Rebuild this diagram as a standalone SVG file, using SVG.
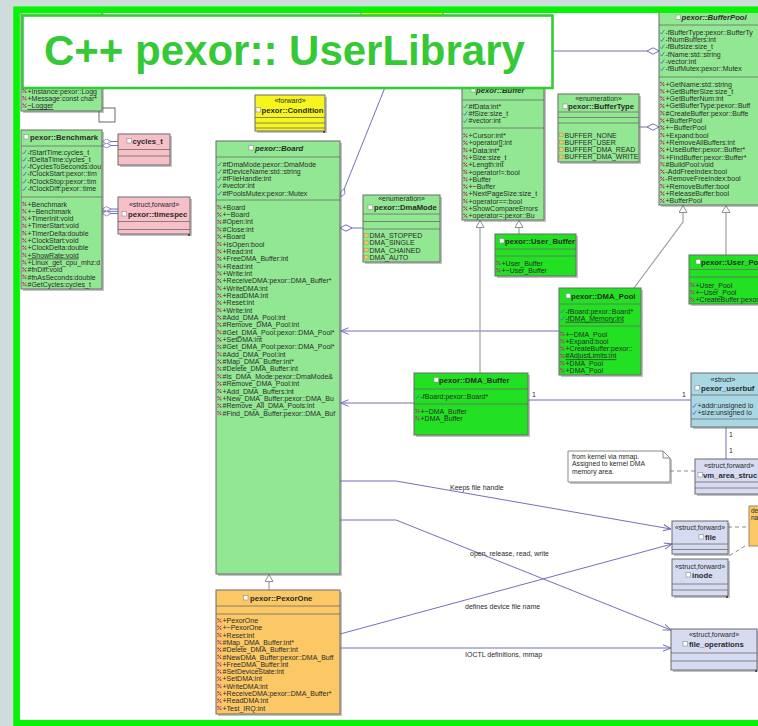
<svg xmlns="http://www.w3.org/2000/svg" width="758" height="726" viewBox="0 0 758 726">
<style>
text{font-family:"Liberation Sans",Arial,sans-serif;font-size:7px;fill:#2a2a2a}
.hd{font-weight:bold;font-size:7.7px}
.it{font-style:italic}
.st{text-anchor:middle;font-size:7px}
.sh{fill:#7a7a7a;opacity:.45}
.bx{stroke:#6b6b6b;stroke-width:1}
.lg{fill:#92e892}
.bg{fill:#22e022}
.pk{fill:#f7c0c8}
.yl{fill:#f6f61e}
.or{fill:#fcc865}
.lb{fill:#a9d8e4}
.lv{fill:#d7dbf2}
.sp{fill:none;stroke:#6b6b6b;stroke-width:.8}
.cn{fill:none;stroke:#7171ba;stroke-width:1}
.ih{fill:none;stroke:#a0a0a0;stroke-width:1.2}
.ds{fill:none;stroke:#8a8a8a;stroke-width:1;stroke-dasharray:4 3}
.u{text-decoration:underline}
.dot{fill:#222}
</style>
<defs>
<g id="im"><path d="M1.4 2L5.2-2" stroke="#b03a78" stroke-width=".9"/><rect x="1.3" y="-2.2" width="1.6" height="1.6" fill="#b03a78"/><rect x="3.8" y=".4" width="1.6" height="1.6" fill="#b03a78"/></g>
<g id="ia"><path d="M1.6 .6L2.6 2L5.4-2" fill="none" stroke="#4a70c8" stroke-width=".9"/></g>
<g id="il"><rect x="1.5" y="-1.9" width="3.6" height="3.6" fill="#e9cd6a" stroke="#b09040" stroke-width=".5"/></g>
<g id="hi"><rect width="4.5" height="4.5" fill="#fff" stroke="#8a8a8a" stroke-width=".6"/></g>
<marker id="dm" viewBox="0 0 13 8" refX="0.5" refY="4" markerWidth="13" markerHeight="8" markerUnits="userSpaceOnUse" orient="auto"><path d="M0.5 4L6.5 0.8L12.5 4L6.5 7.2Z" fill="#fff" stroke="#7171ba"/></marker>
<marker id="dms" viewBox="0 0 10 6" refX="0.5" refY="3" markerWidth="10" markerHeight="6" markerUnits="userSpaceOnUse" orient="auto"><path d="M0.5 3L5 0.6L9.5 3L5 5.4Z" fill="#fff" stroke="#7171ba" stroke-width=".8"/></marker>
<marker id="ar" viewBox="0 0 8 8" refX="8" refY="4" markerWidth="8" markerHeight="8" markerUnits="userSpaceOnUse" orient="auto"><path d="M0 0.8L8 4L0 7.2" fill="none" stroke="#7171ba"/></marker>
<marker id="tri" viewBox="0 0 8 9" refX="0" refY="4.5" markerWidth="8" markerHeight="9" markerUnits="userSpaceOnUse" orient="auto"><path d="M0.5 4.5L7.5 0.5V8.5Z" fill="#fff" stroke="#909090"/></marker>
</defs>

<!-- page background and white drawing area -->
<rect width="758" height="726" fill="#cfdcdc"/>
<rect x="18" y="10" width="740" height="714" fill="#fff"/>

<!-- connectors -->
<g id="connectors">
<path class="cn" d="M659 51H553" marker-start="url(#dm)"/>
<path class="cn" d="M659 127H639" marker-start="url(#dm)"/>
<path class="cn" d="M341 197L396 60" marker-start="url(#dms)"/>
<path class="cn" d="M340 228H363" marker-start="url(#dm)"/>
<path class="cn" d="M102 141.5H118" marker-start="url(#dms)"/>
<path class="cn" d="M102 145.5H118" marker-start="url(#dms)"/>
<path class="cn" d="M102 209H118" marker-start="url(#dms)"/>
<path class="cn" d="M102 211.3H118"/>
<path class="cn" d="M102 213.5H118" marker-start="url(#dms)"/>
<path class="cn" d="M559 331H340.5" marker-end="url(#ar)"/>
<path class="cn" d="M414 403H340.5" marker-end="url(#ar)"/>
<path class="cn" d="M528 400H691"/>
<path class="cn" d="M726 427V459"/>
<path class="ds" d="M670 471H695"/>
<path class="ds" d="M728 527H749"/>
<path class="ds" d="M745 546L729 556"/>
<path class="cn" d="M340 481H396L671 529" marker-end="url(#ar)"/>
<path class="cn" d="M340 520H396L671 630" marker-end="url(#ar)"/>
<path class="cn" d="M340 634L672 544" marker-end="url(#ar)"/>
<path class="cn" d="M340 648H671" marker-end="url(#ar)"/>
<path class="ih" d="M480 220V373" marker-start="url(#tri)"/>
<path class="ih" d="M519 220V234" marker-start="url(#tri)"/>
<path class="ih" d="M683 205V222L634 288" marker-start="url(#tri)"/>
<path class="ih" d="M726 205V255" marker-start="url(#tri)"/>
<path class="ih" d="M269 574V590" marker-start="url(#tri)"/>
<text x="450" y="490">Keeps file handle</text>
<text x="470" y="556">open, release, read, write</text>
<text x="465" y="609">defines device file name</text>
<text x="465" y="656.5">IOCTL definitions, mmap</text>
<text x="532" y="397">1</text>
<text x="682" y="397">1</text>
<text x="729" y="437">1</text>
<text x="729" y="453">1</text>
</g>

<!-- yellow class mostly hidden behind the heading -->
<g id="n-hidden">
<rect class="bx yl" x="361" y="11" width="82" height="5"/>
</g>

<!-- pexor::Logger -->
<g id="n-logger">
<rect class="bx" x="99" y="108" width="16" height="14" fill="#fff"/>
<rect class="sh" x="23" y="10" width="81" height="103"/>
<rect class="bx lg" x="21" y="8" width="81" height="103"/>
<svg x="21" y="8" width="81" height="103" viewBox="21 8 81 103">
<g transform="translate(21,91)">
<use href="#im"/><use href="#im" y="7.3"/><use href="#im" y="14.6"/>
<g transform="translate(0,2.5)">
<text x="6.5" y="0">+Instance:pexor::Logg</text>
<text x="6.5" y="7.3">+Message:const char*</text>
<text x="6.5" y="14.6" class="u">~Logger</text>
</g></g></svg>
</g>

<!-- pexor::Benchmark -->
<g id="n-benchmark">
<rect class="sh" x="23" y="132" width="81" height="159"/>
<rect class="bx lg" x="21" y="130" width="81" height="159"/>
<svg x="21" y="130" width="81" height="159" viewBox="21 130 81 159">
<use href="#hi" x="24" y="134.5"/>
<text class="hd" x="30" y="139.5">pexor::Benchmark</text>
<path class="sp" d="M21 146h81M21 197h81"/>
<g transform="translate(21,152)">
<use href="#ia"/><use href="#ia" y="7.3"/><use href="#ia" y="14.6"/><use href="#ia" y="21.9"/><use href="#ia" y="29.2"/><use href="#ia" y="36.5"/>
<g transform="translate(0,2.5)">
<text x="6.5" y="0">-fStartTime:cycles_t</text>
<text x="6.5" y="7.3">-fDeltaTime:cycles_t</text>
<text x="6.5" y="14.6">-fCyclesToSeconds:dou</text>
<text x="6.5" y="21.9">-fClockStart:pexor::tim</text>
<text x="6.5" y="29.2">-fClockStop:pexor::tim</text>
<text x="6.5" y="36.5">-fClockDiff:pexor::time</text>
</g></g>
<g transform="translate(21,204)">
<use href="#im"/><use href="#im" y="7.3"/><use href="#im" y="14.6"/><use href="#im" y="21.9"/><use href="#im" y="29.2"/><use href="#im" y="36.5"/><use href="#im" y="43.8"/><use href="#im" y="51.1"/><use href="#im" y="58.4"/><use href="#im" y="65.7"/><use href="#im" y="73"/><use href="#im" y="80.3"/>
<g transform="translate(0,2.5)">
<text x="6.5" y="0">+Benchmark</text>
<text x="6.5" y="7.3">+~Benchmark</text>
<text x="6.5" y="14.6">+TimerInit:void</text>
<text x="6.5" y="21.9">+TimerStart:void</text>
<text x="6.5" y="29.2">+TimerDelta:double</text>
<text x="6.5" y="36.5">+ClockStart:void</text>
<text x="6.5" y="43.8">+ClockDelta:double</text>
<text x="6.5" y="51.1" class="u">+ShowRate:void</text>
<text x="6.5" y="58.4">+Linux_get_cpu_mhz:d</text>
<text x="6.5" y="65.7">#fnDiff:void</text>
<text x="6.5" y="73">#fnAsSeconds:double</text>
<text x="6.5" y="80.3">#GetCycles:cycles_t</text>
</g></g></svg>
</g>

<!-- cycles_t -->
<g id="n-cycles">
<rect class="sh" x="120" y="136" width="52" height="31"/>
<rect class="bx pk" x="118" y="134" width="52" height="31"/>
<use href="#hi" x="127" y="138.5"/>
<text class="hd" x="132.5" y="143.5">cycles_t</text>
<path class="sp" d="M118 149.5h52M118 156h52"/>
</g>

<!-- pexor::timespec -->
<g id="n-timespec">
<rect class="sh" x="120" y="199" width="72" height="37"/>
<rect class="bx pk" x="118" y="197" width="72" height="37"/>
<text class="st" x="154" y="207">«struct,forward»</text>
<use href="#hi" x="122" y="211.5"/>
<text class="hd" x="128" y="216.5">pexor::timespec</text>
<path class="sp" d="M118 221.5h72M118 229.5h72"/>
<circle class="dot" cx="189" cy="235" r=".9"/>
</g>

<!-- pexor::Condition -->
<g id="n-condition">
<rect class="sh" x="257" y="97" width="70" height="36"/>
<rect class="bx yl" x="255" y="95" width="70" height="36"/>
<text class="st" x="290" y="103">«forward»</text>
<use href="#hi" x="256" y="107.5"/>
<text class="hd" x="261.5" y="112.5">pexor::Condition</text>
<path class="sp" d="M255 117.5h70M255 123h70M255 128h70"/>
<circle class="dot" cx="324" cy="132" r=".9"/>
</g>

<!-- pexor::Board -->
<g id="n-board">
<rect class="sh" x="218" y="143" width="124" height="433"/>
<rect class="bx lg" x="216" y="141" width="124" height="433"/>
<svg x="216" y="141" width="124" height="433" viewBox="216 141 124 433">
<use href="#hi" x="249" y="145.5"/>
<text class="hd it" x="255" y="150.5">pexor::Board</text>
<path class="sp" d="M216 157h124M216 200h124"/>
<g transform="translate(216,164)">
<use href="#ia"/><use href="#ia" y="7.3"/><use href="#ia" y="14.6"/><use href="#ia" y="21.9"/><use href="#ia" y="29.2"/>
<g transform="translate(0,2.5)">
<text x="6.5" y="0">#fDmaMode:pexor::DmaMode</text>
<text x="6.5" y="7.3">#fDeviceName:std::string</text>
<text x="6.5" y="14.6">#fFileHandle:int</text>
<text x="6.5" y="21.9">#vector:int</text>
<text x="6.5" y="29.2">#fPoolsMutex:pexor::Mutex</text>
</g></g>
<g transform="translate(216,207.3)">
<use href="#im"/><use href="#im" y="7.35"/><use href="#im" y="14.7"/><use href="#im" y="22.05"/><use href="#im" y="29.4"/><use href="#im" y="36.75"/><use href="#im" y="44.1"/><use href="#im" y="51.45"/><use href="#im" y="58.8"/><use href="#im" y="66.15"/><use href="#im" y="73.5"/><use href="#im" y="80.85"/><use href="#im" y="88.2"/><use href="#im" y="95.55"/><use href="#im" y="102.9"/><use href="#im" y="110.25"/><use href="#im" y="117.6"/><use href="#im" y="124.95"/><use href="#im" y="132.3"/><use href="#im" y="139.65"/><use href="#im" y="147"/><use href="#im" y="154.35"/><use href="#im" y="161.7"/><use href="#im" y="169.05"/><use href="#im" y="176.4"/><use href="#im" y="183.75"/><use href="#im" y="191.1"/><use href="#im" y="198.45"/><use href="#im" y="205.8"/>
<g transform="translate(0,2.5)">
<text x="6.5" y="0">+Board</text>
<text x="6.5" y="7.35">+~Board</text>
<text x="6.5" y="14.7">#Open:int</text>
<text x="6.5" y="22.05">#Close:int</text>
<text x="6.5" y="29.4">+Board</text>
<text x="6.5" y="36.75">+IsOpen:bool</text>
<text x="6.5" y="44.1">+Read:int</text>
<text x="6.5" y="51.45">+FreeDMA_Buffer:int</text>
<text x="6.5" y="58.8">+Read:int</text>
<text x="6.5" y="66.15">+Write:int</text>
<text x="6.5" y="73.5">+ReceiveDMA:pexor::DMA_Buffer*</text>
<text x="6.5" y="80.85">+WriteDMA:int</text>
<text x="6.5" y="88.2">+ReadDMA:int</text>
<text x="6.5" y="95.55">+Reset:int</text>
<text x="6.5" y="102.9">+Write:int</text>
<text x="6.5" y="110.25">#Add_DMA_Pool:int</text>
<text x="6.5" y="117.6">#Remove_DMA_Pool:int</text>
<text x="6.5" y="124.95">#Get_DMA_Pool:pexor::DMA_Pool*</text>
<text x="6.5" y="132.3">+SetDMA:int</text>
<text x="6.5" y="139.65">#Get_DMA_Pool:pexor::DMA_Pool*</text>
<text x="6.5" y="147">#Add_DMA_Pool:int</text>
<text x="6.5" y="154.35">#Map_DMA_Buffer:int*</text>
<text x="6.5" y="161.7">#Delete_DMA_Buffer:int</text>
<text x="6.5" y="169.05">#Is_DMA_Mode:pexor::DmaMode&amp;</text>
<text x="6.5" y="176.4">#Remove_DMA_Pool:int</text>
<text x="6.5" y="183.75">+Add_DMA_Buffers:int</text>
<text x="6.5" y="191.1">+New_DMA_Buffer:pexor::DMA_Bu</text>
<text x="6.5" y="198.45">#Remove_All_DMA_Pools:int</text>
<text x="6.5" y="205.8">#Find_DMA_Buffer:pexor::DMA_Buf</text>
</g></g></svg>
</g>

<!-- pexor::DmaMode -->
<g id="n-dmamode">
<rect class="sh" x="365" y="197" width="77" height="67"/>
<rect class="bx lg" x="363" y="195" width="77" height="67"/>
<text class="st" x="401.5" y="201">«enumeration»</text>
<use href="#hi" x="368" y="205"/>
<text class="hd" x="374" y="210">pexor::DmaMode</text>
<path class="sp" d="M363 214h77M363 221.5h77M363 229h77"/>
<g transform="translate(363,235.5)">
<use href="#il"/><use href="#il" y="7.3"/><use href="#il" y="14.6"/><use href="#il" y="21.9"/>
<g transform="translate(0,2.5)">
<text x="6.5" y="0">DMA_STOPPED</text>
<text x="6.5" y="7.3">DMA_SINGLE</text>
<text x="6.5" y="14.6">DMA_CHAINED</text>
<text x="6.5" y="21.9">DMA_AUTO</text>
</g></g>
</g>

<!-- pexor::PexorOne -->
<g id="n-pexorone">
<rect class="sh" x="218" y="592" width="124" height="124"/>
<rect class="bx or" x="216" y="590" width="124" height="124"/>
<svg x="216" y="590" width="124" height="124" viewBox="216 590 124 124">
<use href="#hi" x="243.5" y="595.5"/>
<text class="hd" x="250" y="600.5">pexor::PexorOne</text>
<path class="sp" d="M216 606h124M216 614h124"/>
<g transform="translate(216,620.5)">
<use href="#im"/><use href="#im" y="7.3"/><use href="#im" y="14.6"/><use href="#im" y="21.9"/><use href="#im" y="29.2"/><use href="#im" y="36.5"/><use href="#im" y="43.8"/><use href="#im" y="51.1"/><use href="#im" y="58.4"/><use href="#im" y="65.7"/><use href="#im" y="73"/><use href="#im" y="80.3"/><use href="#im" y="87.6"/>
<g transform="translate(0,2.5)">
<text x="6.5" y="0">+PexorOne</text>
<text x="6.5" y="7.3">+~PexorOne</text>
<text x="6.5" y="14.6">+Reset:int</text>
<text x="6.5" y="21.9">#Map_DMA_Buffer:int*</text>
<text x="6.5" y="29.2">#Delete_DMA_Buffer:int</text>
<text x="6.5" y="36.5">#NewDMA_Buffer:pexor::DMA_Buff</text>
<text x="6.5" y="43.8">+FreeDMA_Buffer:int</text>
<text x="6.5" y="51.1">#SetDeviceState:int</text>
<text x="6.5" y="58.4">+SetDMA:int</text>
<text x="6.5" y="65.7">+WriteDMA:int</text>
<text x="6.5" y="73">+ReceiveDMA:pexor::DMA_Buffer*</text>
<text x="6.5" y="80.3">+ReadDMA:int</text>
<text x="6.5" y="87.6">+Test_IRQ:int</text>
</g></g></svg>
</g>

<!-- pexor::Buffer -->
<g id="n-buffer">
<rect class="sh" x="464" y="62" width="82" height="160"/>
<rect class="bx lg" x="462" y="60" width="82" height="160"/>
<svg x="462" y="60" width="82" height="160" viewBox="462 60 82 160">
<use href="#hi" x="471" y="87.5"/>
<text class="hd it" x="476" y="92.5">pexor::Buffer</text>
<path class="sp" d="M462 100h82M462 128h82"/>
<g transform="translate(462,106)">
<use href="#ia"/><use href="#ia" y="7.3"/><use href="#ia" y="14.6"/>
<g transform="translate(0,2.5)">
<text x="6.5" y="0">#fData:int*</text>
<text x="6.5" y="7.3">#fSize:size_t</text>
<text x="6.5" y="14.6">#vector:int</text>
</g></g>
<g transform="translate(462,135.5)">
<use href="#im"/><use href="#im" y="7.3"/><use href="#im" y="14.6"/><use href="#im" y="21.9"/><use href="#im" y="29.2"/><use href="#im" y="36.5"/><use href="#im" y="43.8"/><use href="#im" y="51.1"/><use href="#im" y="58.4"/><use href="#im" y="65.7"/><use href="#im" y="73"/><use href="#im" y="80.3"/>
<g transform="translate(0,2.5)">
<text x="6.5" y="0">+Cursor:int*</text>
<text x="6.5" y="7.3">+operator[]:int</text>
<text x="6.5" y="14.6">+Data:int*</text>
<text x="6.5" y="21.9">+Size:size_t</text>
<text x="6.5" y="29.2">+Length:int</text>
<text x="6.5" y="36.5">+operator!=:bool</text>
<text x="6.5" y="43.8">+Buffer</text>
<text x="6.5" y="51.1">+~Buffer</text>
<text x="6.5" y="58.4">+NextPageSize:size_t</text>
<text x="6.5" y="65.7">+operator==:bool</text>
<text x="6.5" y="73">+ShowCompareErrors</text>
<text x="6.5" y="80.3">+operator=:pexor::Bu</text>
</g></g></svg>
</g>

<!-- pexor::BufferType -->
<g id="n-buffertype">
<rect class="sh" x="560" y="96" width="81" height="68"/>
<rect class="bx lg" x="558" y="94" width="81" height="68"/>
<text class="st" x="598.5" y="100.5">«enumeration»</text>
<use href="#hi" x="563" y="104"/>
<text class="hd" x="568" y="109">pexor::BufferType</text>
<path class="sp" d="M558 112h81M558 117.5h81M558 123h81"/>
<g transform="translate(558,135)">
<use href="#il"/><use href="#il" y="7.3"/><use href="#il" y="14.6"/><use href="#il" y="21.9"/>
<g transform="translate(0,2.5)">
<text x="6.5" y="0">BUFFER_NONE</text>
<text x="6.5" y="7.3">BUFFER_USER</text>
<text x="6.5" y="14.6">BUFFER_DMA_READ</text>
<text x="6.5" y="21.9">BUFFER_DMA_WRITE</text>
</g></g>
</g>

<!-- pexor::BufferPool -->
<g id="n-bufferpool">
<rect class="sh" x="661" y="14" width="110" height="193"/>
<rect class="bx lg" x="659" y="12" width="110" height="193"/>
<use href="#hi" x="676" y="15"/>
<text class="hd it" x="681.5" y="20">pexor::BufferPool</text>
<path class="sp" d="M659 25h110M659 77h110"/>
<g transform="translate(659,32)">
<use href="#ia"/><use href="#ia" y="7.35"/><use href="#ia" y="14.7"/><use href="#ia" y="22.05"/><use href="#ia" y="29.4"/><use href="#ia" y="36.75"/>
<g transform="translate(0,2.5)">
<text x="6.5" y="0">-fBufferType:pexor::BufferTy</text>
<text x="6.5" y="7.35">-fNumBuffers:int</text>
<text x="6.5" y="14.7">-fBufsize:size_t</text>
<text x="6.5" y="22.05">-fName:std::string</text>
<text x="6.5" y="29.4">-vector:int</text>
<text x="6.5" y="36.75">-fBufMutex:pexor::Mutex</text>
</g></g>
<g transform="translate(659,84)">
<use href="#im"/><use href="#im" y="7.3"/><use href="#im" y="14.6"/><use href="#im" y="21.9"/><use href="#im" y="29.2"/><use href="#im" y="36.5"/><use href="#im" y="43.8"/><use href="#im" y="51.1"/><use href="#im" y="58.4"/><use href="#im" y="65.7"/><use href="#im" y="73"/><use href="#im" y="80.3"/><use href="#im" y="87.6"/><use href="#im" y="94.9"/><use href="#im" y="102.2"/><use href="#im" y="109.5"/><use href="#im" y="116.8"/>
<g transform="translate(0,2.5)">
<text x="6.5" y="0">+GetName:std::string</text>
<text x="6.5" y="7.3">+GetBufferSize:size_t</text>
<text x="6.5" y="14.6">+GetBufferNum:int</text>
<text x="6.5" y="21.9">+GetBufferType:pexor::Buff</text>
<text x="6.5" y="29.2">#CreateBuffer:pexor::Buffe</text>
<text x="6.5" y="36.5">+BufferPool</text>
<text x="6.5" y="43.8">+~BufferPool</text>
<text x="6.5" y="51.1">+Expand:bool</text>
<text x="6.5" y="58.4">+RemoveAllBuffers:int</text>
<text x="6.5" y="65.7">+UseBuffer:pexor::Buffer*</text>
<text x="6.5" y="73">+FindBuffer:pexor::Buffer*</text>
<text x="6.5" y="80.3">#BuildPool:void</text>
<text x="6.5" y="87.6">-AddFreeIndex:bool</text>
<text x="6.5" y="94.9">-RemoveFreeIndex:bool</text>
<text x="6.5" y="102.2">+RemoveBuffer:bool</text>
<text x="6.5" y="109.5">+ReleaseBuffer:bool</text>
<text x="6.5" y="116.8">+BufferPool</text>
</g></g>
</g>

<!-- pexor::User_Buffer -->
<g id="n-userbuffer">
<rect class="sh" x="497" y="236" width="81" height="42"/>
<rect class="bx bg" x="495" y="234" width="81" height="42"/>
<use href="#hi" x="499.5" y="238.5"/>
<text class="hd" x="505" y="243.5">pexor::User_Buffer</text>
<path class="sp" d="M495 249h81M495 256h81"/>
<g transform="translate(495,263)">
<use href="#im"/><use href="#im" y="7.3"/>
<g transform="translate(0,2.5)">
<text x="6.5" y="0">+User_Buffer</text>
<text x="6.5" y="7.3">+~User_Buffer</text>
</g></g>
</g>

<!-- pexor::DMA_Pool -->
<g id="n-dmapool">
<rect class="sh" x="561" y="290" width="82" height="87"/>
<rect class="bx bg" x="559" y="288" width="82" height="87"/>
<svg x="559" y="288" width="82" height="87" viewBox="559 288 82 87">
<use href="#hi" x="566" y="293.5"/>
<text class="hd" x="571" y="298.5">pexor::DMA_Pool</text>
<path class="sp" d="M559 304h82M559 326h82"/>
<g transform="translate(559,311)">
<use href="#ia"/><use href="#ia" y="7.3"/>
<g transform="translate(0,2.5)">
<text x="6.5" y="0">-fBoard:pexor::Board*</text>
<text x="6.5" y="7.3" class="u">-fDMA_Memory:int</text>
</g></g>
<g transform="translate(559,334)">
<use href="#im"/><use href="#im" y="7.3"/><use href="#im" y="14.6"/><use href="#im" y="21.9"/><use href="#im" y="29.2"/><use href="#im" y="36.5"/>
<g transform="translate(0,2.5)">
<text x="6.5" y="0">+~DMA_Pool</text>
<text x="6.5" y="7.3">+Expand:bool</text>
<text x="6.5" y="14.6">+CreateBuffer:pexor::</text>
<text x="6.5" y="21.9" class="u">#AdjustLimits:int</text>
<text x="6.5" y="29.2">+DMA_Pool</text>
<text x="6.5" y="36.5">+DMA_Pool</text>
</g></g></svg>
</g>

<!-- pexor::User_Pool -->
<g id="n-userpool">
<rect class="sh" x="691" y="257" width="80" height="49"/>
<rect class="bx bg" x="689" y="255" width="80" height="49"/>
<use href="#hi" x="696" y="259.5"/>
<text class="hd" x="701" y="264.5">pexor::User_Po</text>
<path class="sp" d="M689 269.5h80M689 277h80"/>
<g transform="translate(689,285)">
<use href="#im"/><use href="#im" y="7.3"/><use href="#im" y="14.6"/>
<g transform="translate(0,2.5)">
<text x="6.5" y="0">+User_Pool</text>
<text x="6.5" y="7.3">+~User_Pool</text>
<text x="6.5" y="14.6">+CreateBuffer:pexor</text>
</g></g>
</g>

<!-- pexor::DMA_Buffer -->
<g id="n-dmabuffer">
<rect class="sh" x="416" y="375" width="114" height="62"/>
<rect class="bx bg" x="414" y="373" width="114" height="62"/>
<use href="#hi" x="434" y="377.5"/>
<text class="hd" x="439" y="382.5">pexor::DMA_Buffer</text>
<path class="sp" d="M414 389h114M414 404h114"/>
<g transform="translate(414,396.5)">
<use href="#ia"/>
<text x="6.5" y="2.5">-fBoard:pexor::Board*</text>
</g>
<g transform="translate(414,411)">
<use href="#im"/><use href="#im" y="7.3"/>
<g transform="translate(0,2.5)">
<text x="6.5" y="0">+~DMA_Buffer</text>
<text x="6.5" y="7.3">+DMA_Buffer</text>
</g></g>
</g>

<!-- pexor_userbuf -->
<g id="n-userbuf">
<rect class="sh" x="693" y="375" width="80" height="54"/>
<rect class="bx lb" x="691" y="373" width="80" height="54"/>
<text class="st" x="723" y="381.5">«struct»</text>
<use href="#hi" x="695" y="385.5"/>
<text class="hd" x="701" y="390.5">pexor_userbuf</text>
<path class="sp" d="M691 395h80M691 419h80"/>
<g transform="translate(691,405.5)">
<use href="#ia"/><use href="#ia" y="7"/>
<g transform="translate(0,2.5)">
<text x="6.5" y="0">+addr:unsigned lo</text>
<text x="6.5" y="7">+size:unsigned lo</text>
</g></g>
</g>

<!-- vm_area_struct -->
<g id="n-vmarea">
<rect class="sh" x="697" y="461" width="80" height="35"/>
<rect class="bx lv" x="695" y="459" width="80" height="35"/>
<text class="st" x="729" y="467.5">«struct,forward»</text>
<use href="#hi" x="698" y="472.5"/>
<text class="hd" x="703" y="477.5">vm_area_struc</text>
<path class="sp" d="M695 482h80M695 488h80"/>
</g>

<!-- note on vm_area_struct -->
<g id="n-note">
<path d="M570 453H665L672 460V484H570Z" class="sh"/>
<path d="M568 451H663L670 458V482H568Z" fill="#fff" stroke="#8a8a8a"/>
<path d="M663 451V458H670" fill="none" stroke="#8a8a8a"/>
<text x="572" y="458.5" style="font-size:6.8px">from kernel via mmap.</text>
<text x="572" y="466" style="font-size:6.8px">Assigned to kernel DMA</text>
<text x="572" y="473.5" style="font-size:6.8px">memory area.</text>
</g>

<!-- file -->
<g id="n-file">
<rect class="sh" x="674" y="523" width="56" height="33"/>
<rect class="bx lv" x="672" y="521" width="56" height="33"/>
<text class="st" x="700" y="529.5">«struct,forward»</text>
<use href="#hi" x="699" y="534.5"/>
<text class="hd" x="705" y="539.5">file</text>
<path class="sp" d="M672 544h56M672 549.5h56"/>
</g>

<!-- note next to file -->
<g id="n-note2">
<rect x="749" y="506" width="20" height="40" fill="#fcc865" stroke="#9a8a60"/>
<text x="751" y="512.5" style="font-size:6.5px">de</text>
<text x="751" y="520" style="font-size:6.5px">na</text>
</g>

<!-- inode -->
<g id="n-inode">
<rect class="sh" x="674" y="561" width="56" height="37"/>
<rect class="bx lv" x="672" y="559" width="56" height="37"/>
<text class="st" x="700" y="568.5">«struct,forward»</text>
<use href="#hi" x="686" y="572.5"/>
<text class="hd" x="692" y="577.5">inode</text>
<path class="sp" d="M672 584h56M672 590h56"/>
<circle class="dot" cx="727" cy="597" r=".9"/>
</g>

<!-- file_operations -->
<g id="n-fileops">
<rect class="sh" x="673" y="631" width="86" height="41"/>
<rect class="bx lv" x="671" y="629" width="86" height="41"/>
<text class="st" x="714" y="637">«struct,forward»</text>
<use href="#hi" x="683" y="641.5"/>
<text class="hd" x="689" y="646.5">file_operations</text>
<path class="sp" d="M671 653h86M671 661h86"/>
<circle class="dot" cx="756" cy="671" r=".9"/>
</g>

<!-- heading -->
<g id="title">
<rect x="22.5" y="15.5" width="530" height="72.5" fill="#fff" stroke="#33cc33" stroke-width="2.6"/>
<text x="44" y="65" style="font-size:42px;font-weight:bold;fill:#35c935">C++ pexor:: UserLibrary</text>
</g>

<!-- outer frame -->
<rect x="16.6" y="9.7" width="760" height="713.6" fill="none" stroke="#06f306" stroke-width="6.6"/>
</svg>
